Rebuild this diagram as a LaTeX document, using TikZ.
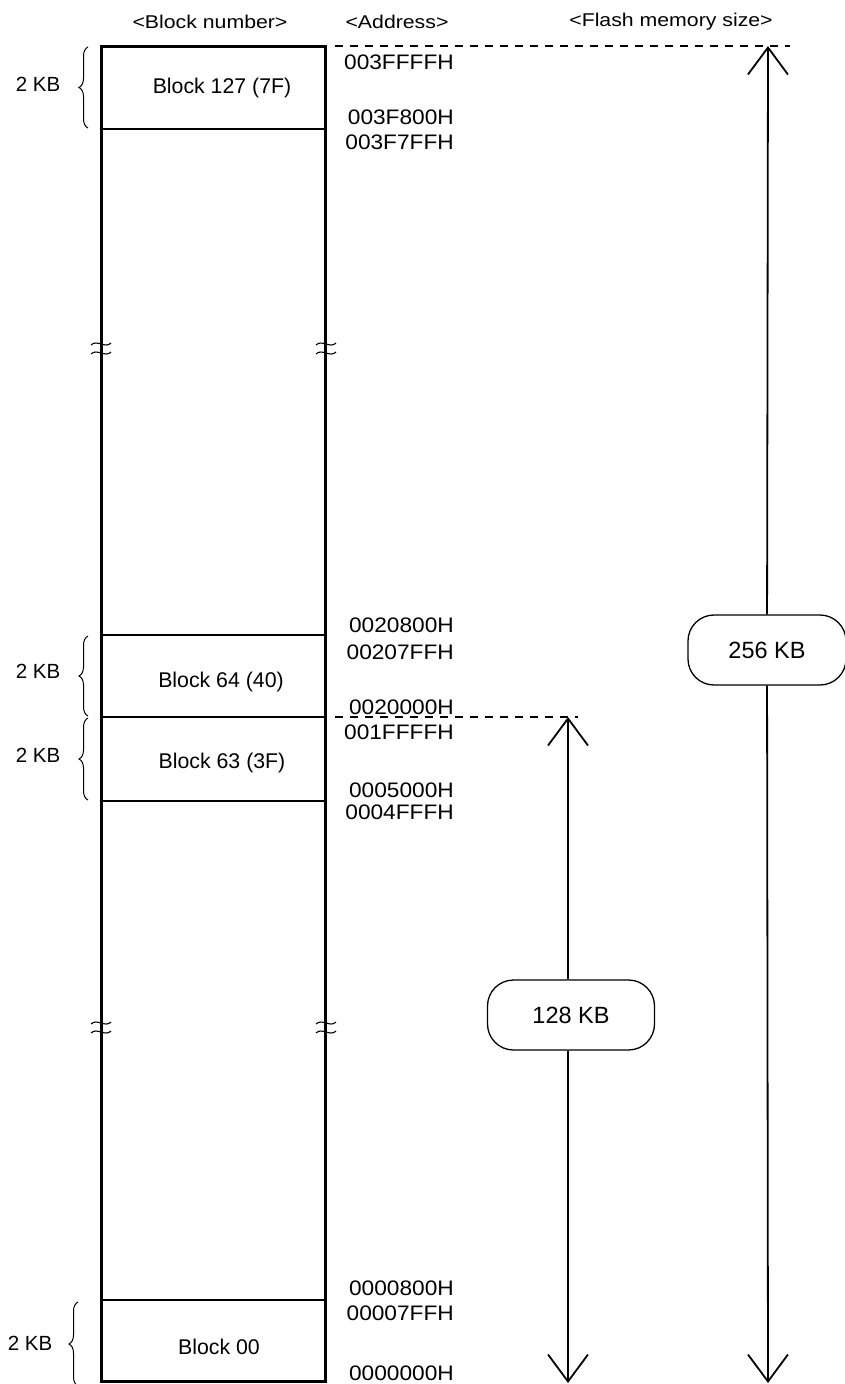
\documentclass[tikz,border=0pt]{standalone}
\usepackage{fontspec}
\setmainfont{Liberation Sans}
\newfontfamily\hdrfont{Liberation Sans}[FakeStretch=1.15]
\newfontfamily\addrfont{Liberation Sans}[FakeStretch=1.08]
\usetikzlibrary{arrows.meta,decorations.pathreplacing}
\begin{document}
\begin{tikzpicture}[x=1pt,y=-1pt,
  hdr/.style={font=\hdrfont\fontsize{18.5}{20}\selectfont, inner sep=0pt},
  blk/.style={font=\fontsize{21.3}{24}\selectfont, inner sep=0pt},
  addr/.style={font=\addrfont\fontsize{21}{24}\selectfont, inner sep=0pt, anchor=east},
  kb/.style={font=\fontsize{20.5}{23}\selectfont, inner sep=0pt},
  sizebox/.style={draw, line width=1.3pt, rounded corners=26pt, font=\fontsize{23.5}{27}\selectfont, fill=white},
  divline/.style={line width=1.6pt},
  dashline/.style={line width=1.3pt, dash pattern=on 8pt off 7pt},
  brc/.style={decorate, decoration={brace, amplitude=9pt}, line width=1pt},
  arr/.style={line width=1.8pt, -{Straight Barb[length=27pt,width=40pt,line width=1.8pt]}},
  wave/.style={line width=1.1pt}
]
\useasboundingbox (0,0) rectangle (845,1384);

% headers
\node[hdr] (h1) at (210,22) {<Block number>};
\node[hdr] (h2) at (397,22) {<Address>};
\node[hdr] (h3) at (671,22) {<Flash memory size>};

% memory column
\node[draw, line width=3pt, inner sep=0pt, outer sep=0pt, minimum width=224pt, minimum height=1335pt, anchor=north west] (mem) at (101,46) {};

% block dividers
\coordinate (l1) at (101,129); \coordinate (r1) at (325,129);
\coordinate (l2) at (101,635); \coordinate (r2) at (325,635);
\coordinate (l3) at (101,717); \coordinate (r3) at (325,717);
\coordinate (l4) at (101,801); \coordinate (r4) at (325,801);
\coordinate (l5) at (101,1300); \coordinate (r5) at (325,1300);
\draw[divline] (l1) -- (r1);
\draw[divline] (l2) -- (r2);
\draw[divline] (l3) -- (r3);
\draw[divline] (l4) -- (r4);
\draw[divline] (l5) -- (r5);

% block labels
\node[blk] (b127) at (222,88) {Block 127 (7F)};
\node[blk] (b64) at (221,682) {Block 64 (40)};
\node[blk] (b63) at (222,763) {Block 63 (3F)};
\node[blk] (b00) at (219,1347) {Block 00};

% braces and sizes
\coordinate (br1a) at (88,128); \coordinate (br1b) at (88,47);
\coordinate (br2a) at (88,716); \coordinate (br2b) at (88,636);
\coordinate (br3a) at (88,800); \coordinate (br3b) at (88,718);
\coordinate (br4a) at (78,1386); \coordinate (br4b) at (78,1302);
\draw[brc] (br1a) -- (br1b);
\draw[brc] (br2a) -- (br2b);
\draw[brc] (br3a) -- (br3b);
\draw[brc] (br4a) -- (br4b);
\node[kb] (k1) at (38,84) {2 KB};
\node[kb] (k2) at (38,671) {2 KB};
\node[kb] (k3) at (38,755) {2 KB};
\node[kb] (k4) at (30,1343) {2 KB};

% addresses
\node[addr] (a1) at (454,62) {003FFFFH};
\node[addr] (a2) at (454,117) {003F800H};
\node[addr] (a3) at (454,142) {003F7FFH};
\node[addr] (a4) at (454,625) {0020800H};
\node[addr] (a5) at (454,652) {00207FFH};
\node[addr] (a6) at (454,707) {0020000H};
\node[addr] (a7) at (454,732) {001FFFFH};
\node[addr] (a8) at (454,790) {0005000H};
\node[addr] (a9) at (454,812) {0004FFFH};
\node[addr] (a10) at (454,1288) {0000800H};
\node[addr] (a11) at (454,1313) {00007FFH};
\node[addr] (a12) at (454,1373) {0000000H};

% dashed lines
\coordinate (d1s) at (335,46); \coordinate (d1e) at (790,46);
\coordinate (d2s) at (335,717); \coordinate (d2e) at (578,717);
\draw[dashline] (d1s) -- (d1e);
\draw[dashline] (d2s) -- (d2e);

% break marks
\foreach \x in {101,326} {
  \foreach \y in {344,353,1023,1032} {
    \draw[wave] (\x-10,\y+1) .. controls (\x-4,\y-5) and (\x+4,\y+5) .. (\x+10,\y-1);
  }
}

% size arrows
\coordinate (t256) at (768,46); \coordinate (e256) at (768,1383);
\node[sizebox, minimum width=158pt, minimum height=70pt] (s256) at (767,650) {256 KB};
\draw[arr] (s256) -- (t256);
\draw[arr] (s256) -- (e256);

\coordinate (t128) at (568,717); \coordinate (e128) at (568,1383);
\node[sizebox, minimum width=167pt, minimum height=70pt] (s128) at (571,1015) {128 KB};
\draw[arr] (s128.north -| t128) -- (t128);
\draw[arr] (s128.south -| t128) -- (e128);
\end{tikzpicture}
\end{document}
